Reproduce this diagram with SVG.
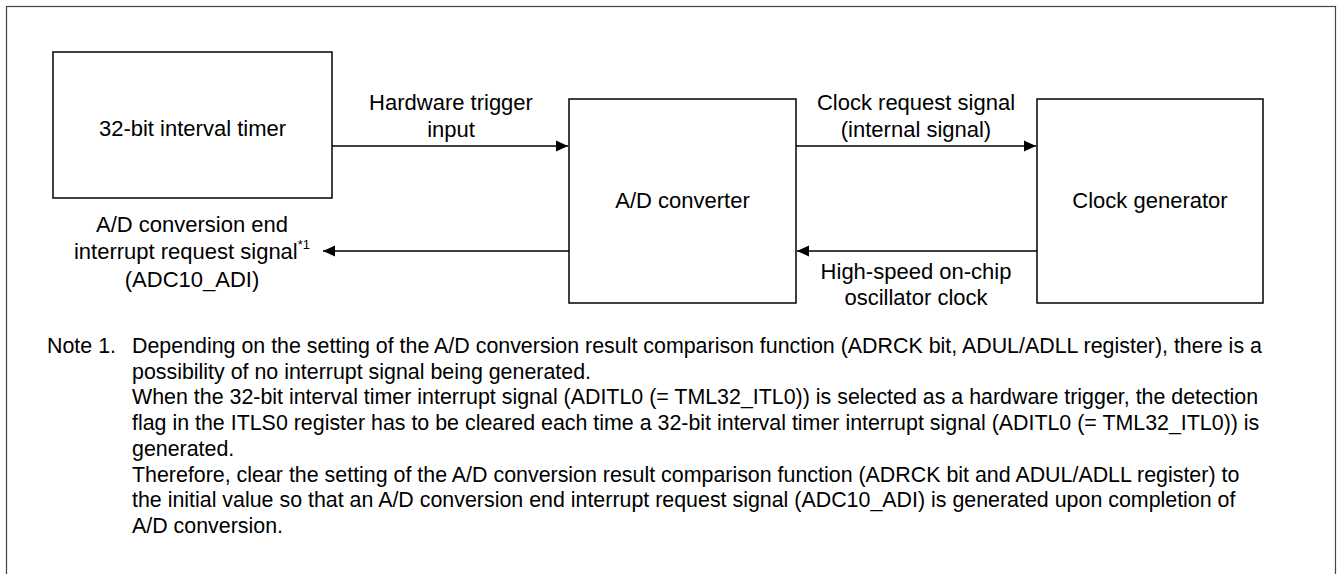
<svg xmlns="http://www.w3.org/2000/svg" width="1341" height="574" viewBox="0 0 1341 574">
<style>
.box{fill:#fff;stroke:#000;stroke-width:1.5}
.lbl{font-family:"Liberation Sans",Arial,sans-serif;font-size:22px;fill:#000}
.mid{text-anchor:middle}
.note{font-family:"Liberation Sans",Arial,sans-serif;font-size:21.4px;fill:#000}
.wire{stroke:#000;stroke-width:1.5;fill:none}
</style>
<defs>
<marker id="ah" markerWidth="12" markerHeight="12" refX="12" refY="6" orient="auto" markerUnits="userSpaceOnUse">
<path d="M0,0.5 L12,6 L0,11.5 Z" fill="#000"/>
</marker>
</defs>
<rect x="0" y="0" width="1341" height="574" fill="#fff"/>
<rect x="6.5" y="6.5" width="1329" height="600" fill="none" stroke="#444" stroke-width="1.2"/>
<g id="timer">
<rect class="box" x="53" y="52" width="279" height="146"/>
<text class="lbl mid" x="192.5" y="136">32-bit interval timer</text>
</g>
<g id="adc">
<rect class="box" x="569" y="99" width="227" height="204"/>
<text class="lbl mid" x="682.5" y="208">A/D converter</text>
</g>
<g id="clockgen">
<rect class="box" x="1037" y="99" width="226" height="204"/>
<text class="lbl mid" x="1150" y="208">Clock generator</text>
</g>
<g id="connectors">
<line class="wire" x1="332" y1="146" x2="568" y2="146" marker-end="url(#ah)"/>
<line class="wire" x1="796" y1="146" x2="1036" y2="146" marker-end="url(#ah)"/>
<line class="wire" x1="1037" y1="251" x2="797" y2="251" marker-end="url(#ah)"/>
<line class="wire" x1="569" y1="251" x2="323" y2="251" marker-end="url(#ah)"/>
</g>
<g id="labels">
<text class="lbl mid" x="451" y="110">Hardware trigger</text>
<text class="lbl mid" x="451" y="137">input</text>
<text class="lbl mid" x="916" y="110">Clock request signal</text>
<text class="lbl mid" x="916" y="137">(internal signal)</text>
<text class="lbl mid" x="916" y="279">High-speed on-chip</text>
<text class="lbl mid" x="916" y="305">oscillator clock</text>
<text class="lbl mid" x="192" y="232">A/D conversion end</text>
<text class="lbl mid" x="192" y="259">interrupt request signal<tspan font-size="13" dy="-10">*1</tspan></text>
<text class="lbl mid" x="192" y="287">(ADC10_ADI)</text>
</g>
<g id="notes">
<text class="note" x="47" y="353">Note 1.</text>
<text class="note" x="132" y="353">Depending on the setting of the A/D conversion result comparison function (ADRCK bit, ADUL/ADLL register), there is a</text>
<text class="note" x="132" y="378.7">possibility of no interrupt signal being generated.</text>
<text class="note" x="132" y="404.4">When the 32-bit interval timer interrupt signal (ADITL0 (= TML32_ITL0)) is selected as a hardware trigger, the detection</text>
<text class="note" x="132" y="430.1">flag in the ITLS0 register has to be cleared each time a 32-bit interval timer interrupt signal (ADITL0 (= TML32_ITL0)) is</text>
<text class="note" x="132" y="455.8">generated.</text>
<text class="note" x="132" y="481.5">Therefore, clear the setting of the A/D conversion result comparison function (ADRCK bit and ADUL/ADLL register) to</text>
<text class="note" x="132" y="507.2">the initial value so that an A/D conversion end interrupt request signal (ADC10_ADI) is generated upon completion of</text>
<text class="note" x="132" y="532.9">A/D conversion.</text>
</g>
</svg>
